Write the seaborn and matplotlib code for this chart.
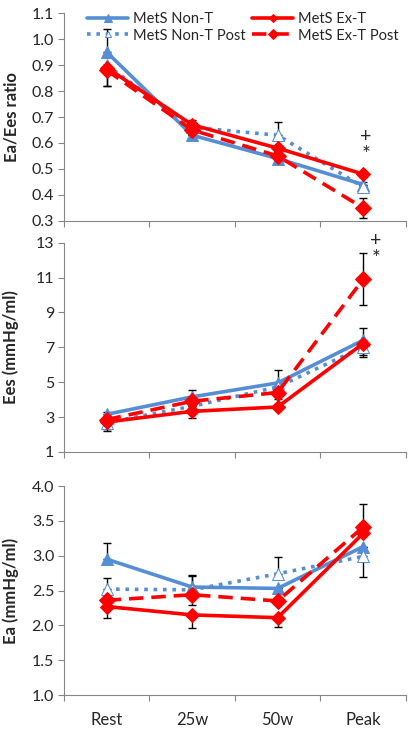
import numpy as np
import matplotlib
matplotlib.use("Agg")
import matplotlib.pyplot as plt
import seaborn as sns

# ---------------------------------------------------------------------
stages = ["Rest", "25w", "50w", "Peak"]
series = ["MetS Non-T", "MetS Non-T Post", "MetS Ex-T", "MetS Ex-T Post"]

# Ea/Ees ratio
ratio_nont      = [0.95, 0.63, 0.54, 0.44]
ratio_nont_post = [0.90, 0.66, 0.63, 0.43]
ratio_ext       = [0.89, 0.67, 0.58, 0.48]
ratio_ext_post  = [0.88, 0.65, 0.55, 0.35]
ratio_err_lo = [[0.00, 0.00, 0.00, 0.00], [0.00, 0.00, 0.00, 0.00],
                [0.07, 0.02, 0.02, 0.01], [0.06, 0.02, 0.02, 0.04]]
ratio_err_hi = [[0.09, 0.02, 0.02, 0.01], [0.00, 0.03, 0.05, 0.01],
                [0.00, 0.00, 0.00, 0.00], [0.00, 0.00, 0.00, 0.04]]

# Ees (mmHg/ml)
ees_nont      = [3.16, 4.16, 4.96, 7.41]
ees_nont_post = [2.68, 3.62, 4.73, 7.03]
ees_ext       = [2.72, 3.33, 3.58, 7.22]
ees_ext_post  = [2.86, 3.91, 4.41, 10.90]
ees_err_lo = [[0.00, 0.00, 0.00, 0.00], [0.50, 0.00, 0.00, 0.45],
              [0.40, 0.38, 0.00, 0.80], [0.00, 0.00, 0.37, 1.46]]
ees_err_hi = [[0.15, 0.42, 0.74, 0.72], [0.00, 0.00, 0.00, 0.00],
              [0.00, 0.00, 0.00, 0.00], [0.00, 0.00, 0.00, 1.50]]

# Ea (mmHg/ml)
ea_nont      = [2.95, 2.55, 2.53, 3.13]
ea_nont_post = [2.52, 2.51, 2.74, 2.99]
ea_ext       = [2.27, 2.15, 2.11, 3.32]
ea_ext_post  = [2.36, 2.44, 2.35, 3.41]
ea_err_lo = [[0.00, 0.00, 0.00, 0.00], [0.00, 0.00, 0.00, 0.30],
             [0.17, 0.19, 0.13, 0.00], [0.00, 0.15, 0.00, 0.00]]
ea_err_hi = [[0.23, 0.18, 0.00, 0.00], [0.16, 0.20, 0.24, 0.00],
             [0.00, 0.00, 0.00, 0.00], [0.00, 0.00, 0.00, 0.33]]

BLUE = "#558ED5"
RED = "#FF0000"
GREY = "#868686"

styles = {
    "MetS Non-T":      dict(color=BLUE, linestyle="-", marker="^", markersize=9,
                            markerfacecolor=BLUE, markeredgecolor=BLUE, lw=2.6),
    "MetS Non-T Post": dict(color=BLUE, linestyle=(0, (1, 1.6)), marker="^", markersize=8,
                            markerfacecolor="white", markeredgecolor=BLUE, lw=2.6),
    "MetS Ex-T":       dict(color=RED, linestyle="-", marker="D", markersize=7,
                            markerfacecolor=RED, markeredgecolor=RED, lw=2.6),
    "MetS Ex-T Post":  dict(color=RED, linestyle=(0, (4, 2.2)), marker="D", markersize=8,
                            markerfacecolor=RED, markeredgecolor=RED, lw=2.6),
}

sns.set_theme(style="white")
plt.rcParams["font.family"] = ["Lato", "DejaVu Sans"]

fig = plt.figure(figsize=(4.15, 7.29), dpi=100)
ax1 = fig.add_axes([0.154, 0.697, 0.824, 0.285])
ax2 = fig.add_axes([0.154, 0.380, 0.824, 0.287])
ax3 = fig.add_axes([0.154, 0.0466, 0.824, 0.2867])

x = np.arange(len(stages))


def draw_panel(ax, values, err_lo, err_hi, ylim, yticks, fmt, ylabel):
    for name, vals, lo, hi in zip(series, values, err_lo, err_hi):
        ax.errorbar(x, vals, yerr=[lo, hi], fmt="none", ecolor="black",
                    elinewidth=1.0, capsize=3, capthick=1.0, zorder=2)
    for name, vals in zip(series, values):
        sns.lineplot(x=x, y=vals, ax=ax, label=name, zorder=3, **styles[name])
    ax.set_xlim(-0.5, len(stages) - 0.5)
    ax.set_ylim(*ylim)
    ax.set_yticks(yticks)
    ax.set_yticklabels([fmt.format(v) for v in yticks])
    ax.set_xticks(np.arange(-0.5, len(stages)))
    ax.set_xticklabels([])
    ax.set_ylabel(ylabel, fontsize=12, fontweight="bold")
    for s in ["top", "right"]:
        ax.spines[s].set_visible(False)
    for s in ["left", "bottom"]:
        ax.spines[s].set_color(GREY)
        ax.spines[s].set_linewidth(0.8)
    ax.tick_params(axis="both", direction="out", length=4, width=0.8,
                   color=GREY, labelsize=11.5, pad=3, left=True, bottom=True)
    ax.legend_.remove()


draw_panel(ax1, [ratio_nont, ratio_nont_post, ratio_ext, ratio_ext_post],
           ratio_err_lo, ratio_err_hi, (0.3, 1.1),
           np.round(np.arange(0.3, 1.11, 0.1), 1), "{:.1f}", "Ea/Ees ratio")
draw_panel(ax2, [ees_nont, ees_nont_post, ees_ext, ees_ext_post],
           ees_err_lo, ees_err_hi, (1, 13), np.arange(1, 14, 2), "{:d}",
           "Ees (mmHg/ml)")
draw_panel(ax3, [ea_nont, ea_nont_post, ea_ext, ea_ext_post],
           ea_err_lo, ea_err_hi, (1.0, 4.0),
           np.round(np.arange(1.0, 4.01, 0.5), 1), "{:.1f}", "Ea (mmHg/ml)")

# category labels under bottom panel
ax3.set_xticks(x, minor=True)
ax3.set_xticklabels(stages, minor=True, fontsize=12)
ax3.tick_params(axis="x", which="minor", length=0, pad=12)

for ax in (ax1, ax2, ax3):
    ax.yaxis.set_label_coords(-0.13, 0.5)

# significance marks
ax1.text(3.03, 0.625, "+", ha="center", va="center", fontsize=14)
ax1.text(3.03, 0.552, "*", ha="center", va="center", fontsize=15)
ax2.text(3.15, 13.15, "+", ha="center", va="center", fontsize=14)
ax2.text(3.15, 12.05, "*", ha="center", va="center", fontsize=15)

handles, labels = ax1.get_legend_handles_labels()
ax1.legend(handles, labels, ncol=2, frameon=False, fontsize=10.5,
           loc="upper right", bbox_to_anchor=(0.995, 1.035),
           handlelength=2.8, columnspacing=0.5, handletextpad=0.3,
           labelspacing=0.2, borderaxespad=0, markerscale=0.6)

fig.savefig("out.png", dpi=100)
